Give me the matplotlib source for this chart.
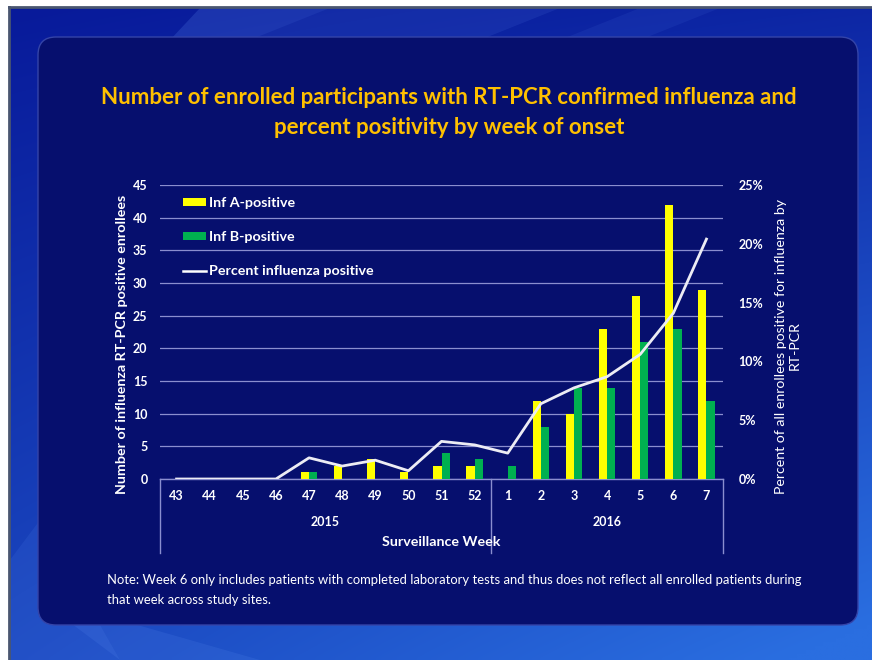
import numpy as np
import matplotlib
matplotlib.use("Agg")
import matplotlib.pyplot as plt
from matplotlib.patches import FancyBboxPatch, Patch, Polygon
from matplotlib.lines import Line2D
from matplotlib.ticker import FuncFormatter
import matplotlib.transforms as mtransforms

plt.rcParams['font.family'] = ['Lato', 'DejaVu Sans']

# Surveillance weeks (2015 weeks 43-52, 2016 weeks 1-7)
weeks = ['43', '44', '45', '46', '47', '48', '49', '50', '51', '52',
         '1', '2', '3', '4', '5', '6', '7']
years = ['2015', '2016']
year_spans = [(0, 9), (10, 16)]

inf_a = [0, 0, 0, 0, 1, 2, 3, 1, 2, 2, 0, 12, 10, 23, 28, 42, 29]
inf_b = [0, 0, 0, 0, 1, 0, 0, 0, 4, 3, 2, 8, 14, 14, 21, 23, 12]
pct_positive = [0, 0, 0, 0, 1.8, 1.1, 1.6, 0.7, 3.2, 2.9, 2.2, 6.4, 7.75, 8.7, 10.6, 14.1, 20.4]

left_ticks = [0, 5, 10, 15, 20, 25, 30, 35, 40, 45]
right_ticks = [0, 5, 10, 15, 20, 25]

W, H = 872, 660
fig = plt.figure(figsize=(W / 100, H / 100), dpi=100, facecolor='white')

# ---- slide background drawn in pixel coordinates ----
deco = fig.add_axes([0, 0, 1, 1])
deco.set_xlim(0, W)
deco.set_ylim(H, 0)
deco.axis('off')

gx, gy = np.meshgrid(np.linspace(0, 1, 200), np.linspace(0, 1, 160))
t = np.clip(0.55 * gy + 0.35 * gx * gy + 0.15 * gx, 0, 1)
c0 = np.array([0x08, 0x1a, 0x9a]) / 255
c1 = np.array([0x2a, 0x6e, 0xe0]) / 255
grad = c0[None, None, :] * (1 - t[..., None]) + c1[None, None, :] * t[..., None]
deco.imshow(grad, extent=(10, W, H, 8), aspect='auto', zorder=0, interpolation='bilinear')

# soft diagonal streaks
for pts, a in [([(200, 8), (330, 8), (250, 40), (170, 40)], 0.18),
               ([(330, 8), (560, 8), (480, 40), (250, 40)], 0.10),
               ([(640, 8), (720, 8), (640, 40), (560, 40)], 0.08),
               ([(10, 560), (40, 520), (120, 660), (10, 660)], 0.10),
               ([(40, 600), (120, 620), (260, 660), (120, 660)], 0.12)]:
    deco.add_patch(Polygon(pts, closed=True, facecolor='#6fa0ff', edgecolor='none', alpha=a, zorder=1))

# frame lines at top and left
deco.plot([9, W], [7, 7], color='#4a5670', lw=2, zorder=2)
deco.plot([9, 9], [7, H], color='#4a5670', lw=2, zorder=2)

panel = FancyBboxPatch((38, 37), 820, 588, boxstyle='round,pad=0,rounding_size=18',
                       facecolor='#060f6e', edgecolor='#3444a8', lw=1.0, zorder=3)
deco.add_patch(panel)

# ---- title ----
fig.text(449 / W, 1 - 97 / H, 'Number of enrolled participants with RT-PCR confirmed influenza and',
         ha='center', va='center', color='#FFC000', fontsize=16, fontweight='bold')
fig.text(449 / W, 1 - 127 / H, 'percent positivity by week of onset',
         ha='center', va='center', color='#FFC000', fontsize=16, fontweight='bold')

# ---- chart ----
ax = fig.add_axes([160 / W, 1 - 479 / H, 563 / W, 294 / H])
ax.set_facecolor('none')
x = np.arange(len(weeks))
bw = 0.25
ax.bar(x - bw / 2, inf_a, width=bw, color='#FFFF00', zorder=3)
ax.bar(x + bw / 2, inf_b, width=bw, color='#00B050', zorder=3)

ax.set_xlim(-0.5, len(weeks) - 0.5)
ax.set_ylim(0, 45)
ax.set_yticks(left_ticks)
ax.grid(axis='y', color='#8a8ecf', lw=0.9, zorder=0)
ax.grid(axis='x', visible=False)
for s in ['top', 'right', 'left']:
    ax.spines[s].set_visible(False)
ax.spines['bottom'].set_color('#8a8ecf')
ax.spines['bottom'].set_linewidth(1.0)
ax.set_xticks(x)
ax.set_xticklabels(weeks)
ax.tick_params(axis='x', length=0, pad=8, labelsize=9, labelcolor='white')
ax.tick_params(axis='y', length=0, pad=9, labelsize=9, labelcolor='white')
for lab in ax.get_xticklabels() + ax.get_yticklabels():
    lab.set_fontweight('bold')

# category grouping box below the axis
trans = mtransforms.blended_transform_factory(ax.transData, ax.transAxes)
for xv in [-0.5, 9.5, len(weeks) - 0.5]:
    ax.plot([xv, xv], [0, -0.252], color='#8a8ecf', lw=1.0, transform=trans, clip_on=False)
for yr, (a, b) in zip(years, year_spans):
    ax.text((a + b) / 2, -0.146, yr, transform=trans, ha='center', va='center',
            color='white', fontsize=9, fontweight='bold')
ax.text(0.5, -0.214, 'Surveillance Week', transform=ax.transAxes, ha='center', va='center',
        color='white', fontsize=10.3, fontweight='bold')

# percent positive on the secondary axis
ax2 = ax.twinx()
ax2.set_ylim(0, 25)
ax2.set_yticks(right_ticks)
ax2.yaxis.set_major_formatter(FuncFormatter(lambda v, p: f'{v:.0f}%'))
ax2.tick_params(axis='y', length=0, pad=11, labelsize=9, labelcolor='white')
for lab in ax2.get_yticklabels():
    lab.set_fontweight('bold')
for s in ax2.spines.values():
    s.set_visible(False)
ax2.plot(x, pct_positive, color='#ececf4', lw=2.0, zorder=5)

# axis titles
fig.text(122 / W, 1 - 344 / H, 'Number of influenza RT-PCR positive enrollees', rotation=90,
         ha='center', va='center', color='white', fontsize=10.3, fontweight='bold')
fig.text(788 / W, 1 - 346 / H, 'Percent of all enrollees positive for influenza by\nRT-PCR',
         rotation=90, ha='center', va='center', color='white', fontsize=10.2,
         multialignment='center', linespacing=1.15)

# legend
handles = [Patch(facecolor='#FFFF00', edgecolor='none'),
           Patch(facecolor='#00B050', edgecolor='none'),
           Line2D([], [], color='white', lw=1.8)]
labels = ['Inf A-positive', 'Inf B-positive', 'Percent influenza positive']
leg = ax2.legend(handles, labels, loc='upper left', bbox_to_anchor=(0.04, 0.96),
                 frameon=False, borderpad=0, borderaxespad=0, labelspacing=1.55,
                 handlelength=1.65, handleheight=0.5, handletextpad=0.2,
                 prop={'weight': 'bold', 'size': 10.3})
for tx in leg.get_texts():
    tx.set_color('white')

# note
fig.text(107 / W, 1 - 580 / H,
         'Note: Week 6 only includes patients with completed laboratory tests and thus does not reflect all enrolled patients during',
         ha='left', va='center', color='white', fontsize=9.4)
fig.text(107 / W, 1 - 600 / H, 'that week across study sites.',
         ha='left', va='center', color='white', fontsize=9.4)

fig.savefig('out.png', dpi=100, facecolor='white')
